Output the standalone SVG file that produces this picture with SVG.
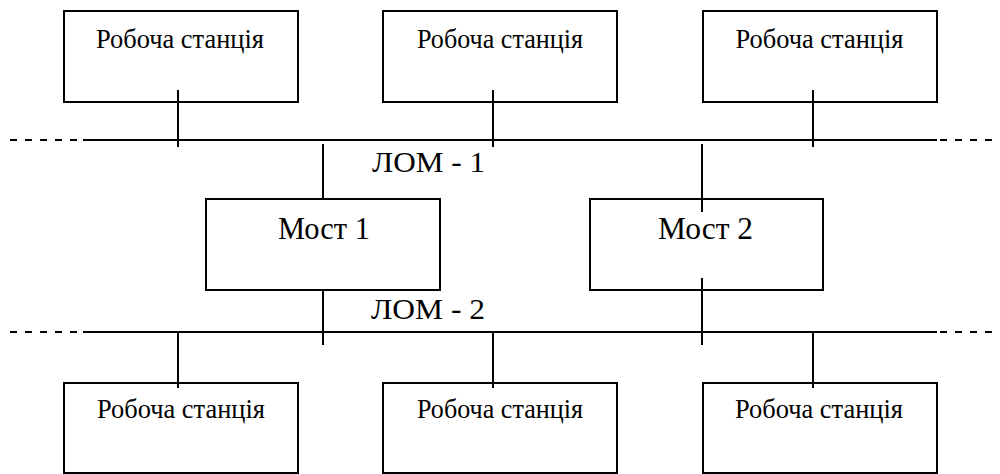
<svg xmlns="http://www.w3.org/2000/svg" width="1000" height="474" viewBox="0 0 1000 474">
  <style>
    .box { fill: none; stroke: #000; stroke-width: 2; }
    .wire { stroke: #000; stroke-width: 2; fill: none; }
    .dash { stroke: #000; stroke-width: 2; fill: none; stroke-dasharray: 7 8; }
    text { font-family: "Liberation Serif", "Times New Roman", serif; fill: #000; }
    .ws { font-size: 28px; text-anchor: middle; }
    .br { font-size: 31px; text-anchor: middle; }
    .lan { font-size: 29px; }
  </style>

  <!-- buses and drop lines -->
  <g id="connectors">
    <!-- LAN 1 -->
    <line class="dash" x1="10" y1="140" x2="83" y2="140"/>
    <line class="wire" x1="83" y1="140" x2="937" y2="140"/>
    <line class="dash" x1="940" y1="140" x2="1000" y2="140"/>
    <!-- LAN 2 -->
    <line class="dash" x1="10" y1="332" x2="83" y2="332"/>
    <line class="wire" x1="83" y1="332" x2="937" y2="332"/>
    <line class="dash" x1="940" y1="332" x2="1000" y2="332"/>
    <!-- upper workstations to LAN 1 -->
    <line class="wire" x1="178" y1="90" x2="178" y2="147"/>
    <line class="wire" x1="493" y1="90" x2="493" y2="147"/>
    <line class="wire" x1="813" y1="90" x2="813" y2="147"/>
    <!-- bridge 1 -->
    <line class="wire" x1="323" y1="144" x2="323" y2="198"/>
    <line class="wire" x1="323" y1="290" x2="323" y2="345"/>
    <!-- bridge 2 -->
    <line class="wire" x1="702" y1="144" x2="702" y2="212"/>
    <line class="wire" x1="702" y1="278" x2="702" y2="345"/>
    <!-- lower workstations to LAN 2 -->
    <line class="wire" x1="178" y1="332" x2="178" y2="388"/>
    <line class="wire" x1="493" y1="332" x2="493" y2="388"/>
    <line class="wire" x1="813" y1="332" x2="813" y2="388"/>
  </g>

  <!-- upper workstations -->
  <g id="ws-top-1">
    <rect class="box" x="64" y="11" width="234" height="91"/>
    <text class="ws" x="180" y="47.5" textLength="168" lengthAdjust="spacingAndGlyphs">Робоча станція</text>
  </g>
  <g id="ws-top-2">
    <rect class="box" x="383" y="11" width="234" height="91"/>
    <text class="ws" x="500" y="47.5" textLength="166" lengthAdjust="spacingAndGlyphs">Робоча станція</text>
  </g>
  <g id="ws-top-3">
    <rect class="box" x="703" y="11" width="234" height="91"/>
    <text class="ws" x="819.5" y="47.5" textLength="168" lengthAdjust="spacingAndGlyphs">Робоча станція</text>
  </g>

  <!-- bridges -->
  <g id="bridge-1">
    <rect class="box" x="206" y="199" width="234" height="91"/>
    <text class="br" x="324" y="238.5" textLength="92" lengthAdjust="spacingAndGlyphs">Мост 1</text>
  </g>
  <g id="bridge-2">
    <rect class="box" x="590" y="199" width="233" height="91"/>
    <text class="br" x="705.5" y="238.5" textLength="95" lengthAdjust="spacingAndGlyphs">Мост 2</text>
  </g>

  <!-- LAN labels -->
  <g id="lan-1">
    <text class="lan" x="372" y="172" textLength="113" lengthAdjust="spacingAndGlyphs">ЛОМ - 1</text>
  </g>
  <g id="lan-2">
    <text class="lan" x="371" y="319" textLength="114" lengthAdjust="spacingAndGlyphs">ЛОМ - 2</text>
  </g>

  <!-- lower workstations -->
  <g id="ws-bottom-1">
    <rect class="box" x="64" y="383" width="234" height="90"/>
    <text class="ws" x="181" y="418" textLength="168" lengthAdjust="spacingAndGlyphs">Робоча станція</text>
  </g>
  <g id="ws-bottom-2">
    <rect class="box" x="383" y="383" width="234" height="90"/>
    <text class="ws" x="500" y="418" textLength="166" lengthAdjust="spacingAndGlyphs">Робоча станція</text>
  </g>
  <g id="ws-bottom-3">
    <rect class="box" x="703" y="383" width="234" height="90"/>
    <text class="ws" x="819" y="418" textLength="168" lengthAdjust="spacingAndGlyphs">Робоча станція</text>
  </g>
</svg>
